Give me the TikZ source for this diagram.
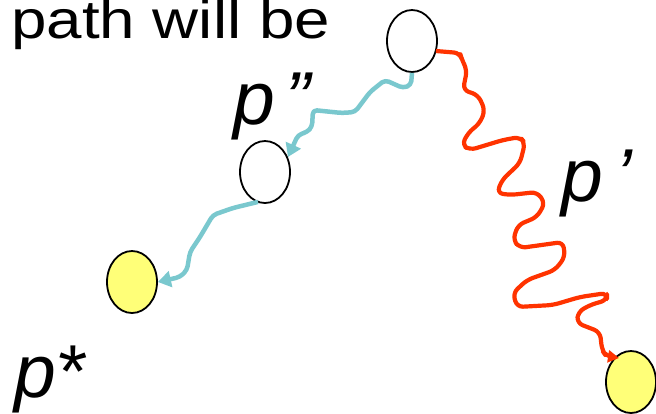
\documentclass[tikz,border=0pt]{standalone}
\usepackage{fontspec}
\setmainfont{Liberation Sans}
\usetikzlibrary{arrows.meta,shapes.geometric}
\definecolor{cyanpath}{RGB}{122,200,206}
\definecolor{redpath}{RGB}{255,51,0}
\definecolor{yellowfill}{RGB}{255,255,120}
\tikzset{
  state/.style={draw=black,line width=1.8pt,ellipse,minimum width=50pt,minimum height=62pt,inner sep=0pt},
  goal/.style={state,fill=yellowfill},
  cpath/.style={draw=cyanpath,line width=4.5pt,line join=round,rounded corners=4pt,-{Triangle[length=13pt,width=16pt]}},
  rpath/.style={draw=redpath,line width=4.2pt,line join=round,rounded corners=6pt,-{Triangle[length=11pt,width=12pt]}},
  lbl/.style={font=\fontsize{75}{80}\itshape\selectfont,inner sep=0pt,anchor=base west},
  title/.style={font=\fontsize{54}{60}\selectfont,inner sep=0pt,anchor=base west,xscale=1.18}
}
\begin{document}
\begin{tikzpicture}[x=1pt,y=-1pt]
\useasboundingbox (0,0) rectangle (656,413);
\node[title] (t) at (11,38) {path will be};
\node[state] (a) at (412,41) {};
\node[state] (b) at (265,172) {};
\node[goal] (c) at (132,282) {};
\node[goal] (d) at (631,382) {};
\node[lbl] (lb) at (233,124) {p\hspace{0.14em}”};
\node[lbl] (lp) at (561,201) {p\hspace{0.17em}’};
\node[lbl] (ls) at (14,397) {p*};
\draw[cpath] (a.south) -- (411,85) -- (403,88) -- (385,80) -- (370,92) -- (355,112) -- (342,113) -- (313,110) -- (312,127) -- (307,132) -- (298,135) -- (288,157);
\draw[cpath] (b.south) ++(-7,-2) coordinate (bs) (bs) -- (233,208) -- (213,215) -- (200,237) -- (190,252) -- (187,270) -- (180,277) -- (c.east);
\draw[rpath] (a.east) ++(-2,10) coordinate (ae) (ae) -- (460,53) -- (462,60) -- (467,70) -- (463,90) -- (478,95) -- (485,110) -- (480,123) -- (468,133) -- (462,145) -- (470,150) -- (503,140) -- (520,137) -- (525,143) -- (520,163) -- (502,180) -- (497,193) -- (510,195) -- (537,192) -- (545,203) -- (537,217) -- (518,225) -- (513,240) -- (520,248) -- (563,242) -- (565,257) -- (555,270) -- (527,280) -- (513,293) -- (517,307) -- (553,305) -- (580,297) -- (607,293) -- (607,300) -- (590,305) -- (578,312) -- (577,323) -- (600,332) -- (602,350) -- (606,356) -- (619,358);
\end{tikzpicture}
\end{document}
